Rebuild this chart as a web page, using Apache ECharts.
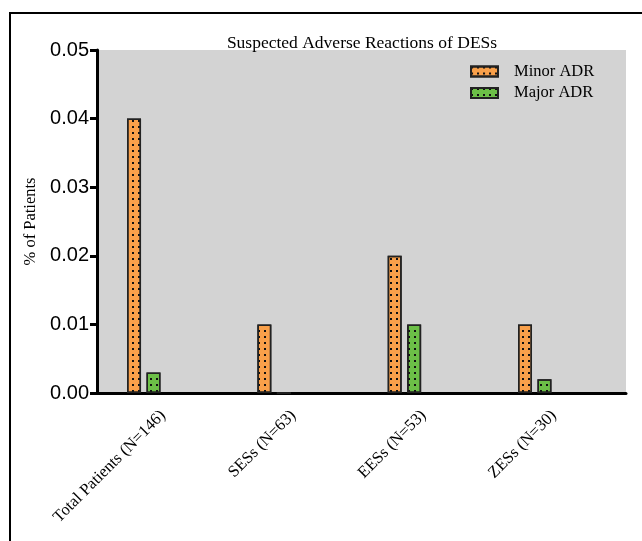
<!DOCTYPE html>
<html>
<head>
<meta charset="utf-8">
<script src="https://cdn.jsdelivr.net/npm/echarts@6/dist/echarts.min.js"></script>
<style>
  html, body { margin: 0; padding: 0; background: #fff; }
  #chart { width: 642px; height: 541px; }
</style>
</head>
<body>
<div id="chart"></div>
<script>
// data
const categories = ['Total Patients (N=146)', 'SESs (N=63)', 'EESs (N=53)', 'ZESs (N=30)'];
const minorAdr = [0.04, 0.01, 0.02, 0.01];
const majorAdr = [0.003, 0, 0.01, 0.002];
const yTicks = [0, 0.01, 0.02, 0.03, 0.04, 0.05];

const serif = '"Liberation Serif", "Times New Roman", serif';
const sans = '"Liberation Sans", Arial, sans-serif';

const dots = {
  symbol: 'rect',
  symbolSize: 1,
  color: '#111',
  dashArrayX: [2, 4],
  dashArrayY: [2, 4]
};

const myChart = echarts.init(document.getElementById('chart'));

// grid 0: y axis, gray area, x axis line
// grid 1: category ticks + rotated labels (ticks sit right of each group, like Prism)
// grid 2: the bars themselves
const gridTop = 50, gridBottom = 148;
let option = {
  backgroundColor: '#fff',
  animation: false,
  title: {
    text: 'Suspected Adverse Reactions of DESs',
    left: 357,
    textAlign: 'center',
    top: 29,
    textStyle: { fontFamily: serif, fontSize: 17.5, fontWeight: 'normal', color: '#000' }
  },
  legend: {
    data: ['Minor ADR', 'Major ADR'],
    orient: 'vertical',
    left: 465,
    top: 58,
    itemWidth: 27,
    itemHeight: 10,
    itemGap: 4.5,
    icon: 'rect',
    textStyle: { fontFamily: serif, fontSize: 16.5, color: '#000', padding: [0, 0, 0, 11] }
  },
  graphic: [
    {
      type: 'rect',
      shape: { x: 10, y: 13, width: 700, height: 600 },
      style: { fill: 'none', stroke: '#000', lineWidth: 2 },
      silent: true
    }
  ],
  grid: [
    { left: 97, right: 16, top: gridTop, bottom: gridBottom, show: true, backgroundColor: '#d3d3d3', borderWidth: 0 },
    { left: 97.8, width: 521.3, top: gridTop, bottom: gridBottom },
    { left: 78.6, width: 521.3, top: gridTop, bottom: gridBottom }
  ],
  xAxis: [
    {
      gridIndex: 0, type: 'category', data: categories,
      axisLine: { lineStyle: { color: '#000', width: 3 } },
      axisTick: { show: false }, axisLabel: { show: false }, splitLine: { show: false }
    },
    {
      gridIndex: 1, type: 'category', data: categories,
      axisLine: { show: false },
      axisTick: { alignWithLabel: true, length: 8, lineStyle: { color: '#000', width: 3 } },
      axisLabel: {
        rotate: 45, margin: 20, interval: 0,
        fontFamily: serif, fontSize: 16.5, color: '#000'
      }
    },
    {
      gridIndex: 2, type: 'category', data: categories, show: false
    }
  ],
  yAxis: [
    {
      gridIndex: 0, type: 'value', min: 0, max: 0.05, interval: 0.01,
      name: '% of Patients', nameLocation: 'middle', nameGap: 55,
      nameTextStyle: { fontFamily: serif, fontSize: 16.5, color: '#000' },
      axisLine: { show: true, lineStyle: { color: '#000', width: 3 } },
      axisTick: { show: true, length: 7, lineStyle: { color: '#000', width: 3 } },
      axisLabel: {
        margin: 8, fontFamily: sans, fontSize: 20, color: '#000',
        formatter: v => v.toFixed(2)
      },
      splitLine: { show: false }
    },
    { gridIndex: 1, type: 'value', min: 0, max: 0.05, show: false },
    { gridIndex: 2, type: 'value', min: 0, max: 0.05, show: false }
  ],
  series: [
    {
      name: 'Minor ADR', type: 'bar', xAxisIndex: 2, yAxisIndex: 2,
      data: minorAdr, barWidth: 14, barGap: '39%',
      itemStyle: { color: '#f9a04a', borderColor: '#222', borderWidth: 1.5, decal: dots }
    },
    {
      name: 'Major ADR', type: 'bar', xAxisIndex: 2, yAxisIndex: 2,
      data: majorAdr, barWidth: 14, barGap: '39%',
      itemStyle: { color: '#6cbf47', borderColor: '#222', borderWidth: 1.5, decal: dots }
    }
  ]
};
myChart.setOption(option, true);
</script>
</body>
</html>
